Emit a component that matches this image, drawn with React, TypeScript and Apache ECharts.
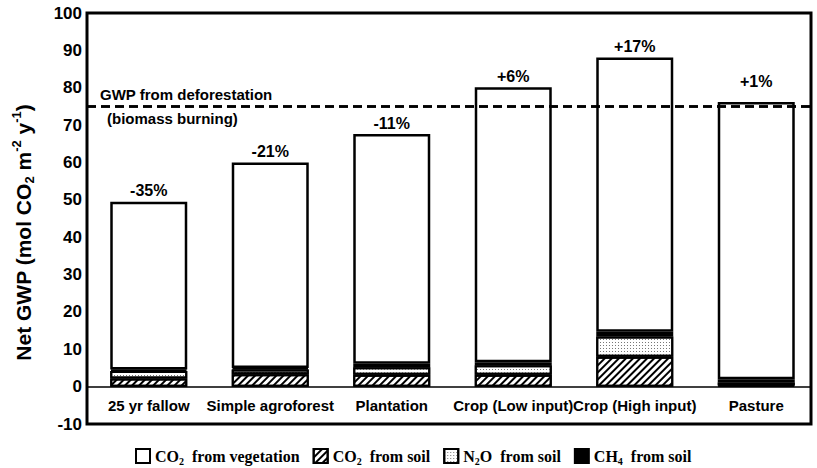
import React, { useEffect, useRef } from "react";
import * as echarts from "echarts";

const categories = ["25 yr fallow", "Simple agroforest", "Plantation", "Crop (Low input)", "Crop (High input)", "Pasture"];
const co2Soil = [2.2, 3.3, 3.2, 3.2, 8.0, 0.3];
const n2oSoil = [2.0, 1.3, 2.0, 2.5, 5.4, 0.8];
const ch4Soil = [0.4, 0.4, 0.9, 0.8, 1.3, 0.9];
const co2Veg = [44.9, 55.0, 61.5, 73.6, 73.4, 74.2];
const changeLabels = ["-35%", "-21%", "-11%", "+6%", "+17%", "+1%"];
const deforestationGWP = 75;
const yMin = -10;
const yMax = 100;
const yStep = 10;

const SANS = "Liberation Sans";
const SERIF = "Liberation Serif";

const legendNames: Record<string, string> = {
  veg: "{n|CO}{s|2}{n|  from vegetation}",
  soil: "{n|CO}{s|2}{n|  from soil}",
  n2o: "{n|N}{s|2}{n|O  from soil}",
  ch4: "{n|CH}{s|4}{n|  from soil}",
};

export default function App() {
  const ref = useRef<HTMLDivElement>(null);
  useEffect(() => {
    if (!ref.current) return;
    const chart = echarts.init(ref.current, null, { renderer: "svg" });
    const baseBar = {
      type: "bar",
      stack: "gwp",
      barWidth: 77,
      xAxisIndex: 0,
      yAxisIndex: 0,
    };
    const hiddenValueAxis = {
      splitLine: { show: false },
      axisTick: { show: false },
      axisLabel: { show: false },
    };
    chart.setOption({
      animation: false,
      backgroundColor: "#fff",
      grid: [
        { left: 88, right: -13, top: 13, bottom: 44, show: false },
        {
          left: 87,
          right: 6,
          top: 13,
          bottom: 44,
          show: true,
          borderColor: "#000",
          borderWidth: 3,
          backgroundColor: "transparent",
        },
      ],
      legend: {
        data: ["veg", "soil", "n2o", "ch4"],
        left: 130,
        top: 443,
        icon: "rect",
        itemWidth: 14,
        itemHeight: 14,
        itemGap: 13,
        formatter: (name: string) => legendNames[name],
        textStyle: {
          fontFamily: SERIF,
          fontWeight: "bold",
          fontSize: 16,
          color: "#000",
          rich: {
            n: { fontFamily: SERIF, fontWeight: "bold", fontSize: 16, color: "#000", lineHeight: 20 },
            s: { fontFamily: SERIF, fontWeight: "bold", fontSize: 10, color: "#000", lineHeight: 10, verticalAlign: "bottom" },
          },
        },
      },
      xAxis: [
        {
          type: "category",
          gridIndex: 0,
          position: "bottom",
          data: categories,
          axisLine: { show: false, onZero: false },
          axisTick: { show: false },
          axisLabel: {
            fontFamily: SANS,
            fontWeight: "bold",
            fontSize: 15,
            color: "#000",
            margin: -26,
            interval: 0,
          },
        },
        {
          type: "value",
          gridIndex: 1,
          min: 0,
          max: 1,
          ...hiddenValueAxis,
          axisLine: { show: true, onZero: true, lineStyle: { color: "#000", width: 1.5 } },
        },
      ],
      yAxis: [
        {
          type: "value",
          gridIndex: 0,
          min: yMin,
          max: yMax,
          interval: yStep,
          splitLine: { show: false },
          axisTick: { show: false },
          axisLine: { show: false },
          axisLabel: {
            fontFamily: SANS,
            fontWeight: "bold",
            fontSize: 17,
            color: "#000",
            margin: 6,
            padding: [8, 0, 0, 0],
          },
          name: "{n|Net GWP (mol CO}{s|2}{n| m}{p|-2}{n| y}{p|-1}{n|)}",
          nameLocation: "middle",
          nameRotate: 90,
          nameGap: 52,
          nameTextStyle: {
            padding: [0, 28, 0, 0],
            rich: {
              n: { fontFamily: SANS, fontWeight: "bold", fontSize: 21, color: "#000", lineHeight: 26 },
              s: { fontFamily: SANS, fontWeight: "bold", fontSize: 13, color: "#000", lineHeight: 13, verticalAlign: "bottom" },
              p: { fontFamily: SANS, fontWeight: "bold", fontSize: 13, color: "#000", lineHeight: 13, verticalAlign: "top" },
            },
          },
        },
        {
          type: "value",
          gridIndex: 1,
          min: yMin,
          max: yMax,
          interval: yStep,
          ...hiddenValueAxis,
          axisLine: { show: false },
        },
      ],
      series: [
        {
          ...baseBar,
          name: "soil",
          data: co2Soil,
          itemStyle: {
            color: "#fff",
            borderColor: "#000",
            borderWidth: 2,
            decal: {
              symbol: "rect",
              symbolSize: 1,
              dashArrayX: [1, 0],
              dashArrayY: [2, 3],
              rotation: -Math.PI / 4,
              color: "#000",
              backgroundColor: "#fff",
            },
          },
        },
        {
          ...baseBar,
          name: "n2o",
          data: n2oSoil,
          itemStyle: {
            color: "#fff",
            borderColor: "#000",
            borderWidth: 2,
            decal: {
              symbol: "rect",
              symbolSize: 1,
              dashArrayX: [1, 2],
              dashArrayY: [1, 2],
              rotation: 0,
              color: "#777",
              backgroundColor: "#fff",
            },
          },
        },
        {
          ...baseBar,
          name: "ch4",
          data: ch4Soil,
          itemStyle: { color: "#000", borderColor: "#000", borderWidth: 2 },
        },
        {
          ...baseBar,
          name: "veg",
          data: co2Veg.map((v, i) => ({
            value: v,
            label: i === changeLabels.length - 1 ? { distance: 12 } : undefined,
          })),
          itemStyle: { color: "#fff", borderColor: "#000", borderWidth: 2.5 },
          label: {
            show: true,
            position: "top",
            distance: 3,
            formatter: (p: any) => changeLabels[p.dataIndex],
            fontFamily: SANS,
            fontWeight: "bold",
            fontSize: 16,
            color: "#000",
          },
        },
        {
          type: "line",
          name: "deforestation",
          xAxisIndex: 1,
          yAxisIndex: 1,
          data: [],
          silent: true,
          markLine: {
            silent: true,
            symbol: "none",
            z: 10,
            lineStyle: { color: "#000", type: [9, 5], width: 2.5 },
            data: [
              {
                yAxis: deforestationGWP,
                label: {
                  show: true,
                  position: "insideStartTop",
                  distance: [13, 4],
                  formatter: "GWP from deforestation",
                  fontFamily: SANS,
                  fontWeight: "bold",
                  fontSize: 15,
                  color: "#000",
                },
              },
              {
                yAxis: deforestationGWP,
                label: {
                  show: true,
                  position: "insideStartBottom",
                  distance: [20, 5],
                  formatter: "(biomass burning)",
                  fontFamily: SANS,
                  fontWeight: "bold",
                  fontSize: 15,
                  color: "#000",
                },
              },
            ],
          },
        },
      ],
    });
    return () => chart.dispose();
  }, []);
  return <div ref={ref} style={{ position: "fixed", left: 0, top: 0, width: 817, height: 468 }} />;
}
